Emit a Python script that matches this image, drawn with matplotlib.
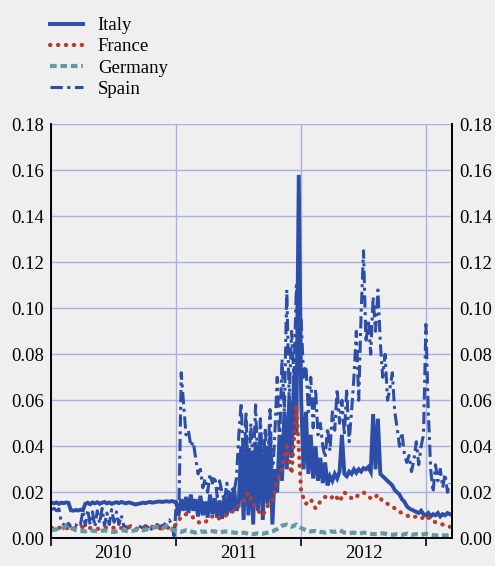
import matplotlib
matplotlib.use("Agg")
import matplotlib.pyplot as plt
import matplotlib.dates as mdates
import pandas as pd

plt.rcParams['font.family'] = ['Liberation Serif', 'DejaVu Serif']

# weekly observations, Jan 2010 - Mar 2013
weeks = pd.date_range('2010-01-04', periods=167, freq='7D')
fortnights = weeks[::2]

italy = [
    0.0155, 0.0152, 0.0156, 0.0150, 0.0155, 0.0153, 0.0156, 0.0154,
    0.0122, 0.0120, 0.0123, 0.0121, 0.0124, 0.0122,
    0.0150, 0.0155, 0.0148, 0.0156, 0.0152, 0.0157, 0.0150, 0.0155, 0.0158, 0.0152,
    0.0156, 0.0150, 0.0154, 0.0157, 0.0153, 0.0158, 0.0155, 0.0152, 0.0156, 0.0154,
    0.0150, 0.0147, 0.0150, 0.0152, 0.0155, 0.0153, 0.0156, 0.0158, 0.0155, 0.0157,
    0.0159, 0.0160, 0.0158, 0.0160, 0.0161, 0.0159, 0.0162, 0.0160,
    # 2011
    0.0150, 0.0110, 0.0170, 0.0120, 0.0180, 0.0110, 0.0190, 0.0120,
    0.0170, 0.0095, 0.0185, 0.0100, 0.0160, 0.0090, 0.0190, 0.0105, 0.0175,
    0.0090, 0.0165, 0.0085, 0.0180, 0.0100, 0.0200, 0.0110, 0.0220, 0.0120,
    0.0150, 0.0400, 0.0080, 0.0450, 0.0100, 0.0380, 0.0060, 0.0420, 0.0120,
    0.0460, 0.0080, 0.0400, 0.0150, 0.0440, 0.0060,
    0.0300, 0.0200, 0.0450, 0.0250, 0.0550, 0.0300, 0.0600, 0.0350, 0.0700, 0.0450, 0.1580,
    # 2012
    0.0600, 0.0300, 0.0550, 0.0280, 0.0450, 0.0260, 0.0400, 0.0250, 0.0350,
    0.0240, 0.0330, 0.0230, 0.0270, 0.0250, 0.0280, 0.0260, 0.0290, 0.0450,
    0.0280, 0.0270, 0.0290, 0.0280, 0.0300, 0.0285, 0.0300, 0.0290, 0.0305,
    0.0300, 0.0310, 0.0290, 0.0540, 0.0300, 0.0520, 0.0280, 0.0270, 0.0260, 0.0250,
    0.0240, 0.0230, 0.0210, 0.0200, 0.0190, 0.0170, 0.0160,
    0.0140, 0.0130, 0.0125, 0.0120, 0.0115, 0.0110, 0.0120, 0.0105,
    # 2013
    0.0100, 0.0110, 0.0095, 0.0105, 0.0100, 0.0110, 0.0095, 0.0105, 0.0100, 0.0110, 0.0105,
]

spain = [
    0.0125, 0.0130, 0.0120, 0.0128, 0.0070,
    0.0060, 0.0055, 0.0065, 0.0050, 0.0060, 0.0055, 0.0070, 0.0060, 0.0120, 0.0055,
    0.0125, 0.0060, 0.0115, 0.0050, 0.0120, 0.0065, 0.0130, 0.0055,
    0.0110, 0.0060, 0.0125, 0.0070, 0.0115, 0.0060, 0.0100, 0.0055,
    0.0050, 0.0045, 0.0055, 0.0050, 0.0035, 0.0055, 0.0050, 0.0045, 0.0055,
    0.0050, 0.0030, 0.0050, 0.0055, 0.0060, 0.0050, 0.0055, 0.0060,
    0.0070, 0.0080, 0.0060, 0.0010,
    # 2011
    0.0160, 0.0100, 0.0720, 0.0580, 0.0450, 0.0470, 0.0400, 0.0420,
    0.0350, 0.0280, 0.0300, 0.0220, 0.0260, 0.0200, 0.0280, 0.0240, 0.0270,
    0.0180, 0.0250, 0.0200, 0.0160, 0.0240, 0.0180, 0.0220, 0.0200, 0.0260,
    0.0450, 0.0590, 0.0300, 0.0550, 0.0250, 0.0500, 0.0300, 0.0580, 0.0280,
    0.0520, 0.0260, 0.0480, 0.0300, 0.0560, 0.0250,
    0.0450, 0.0700, 0.0400, 0.0780, 0.0550, 0.1080, 0.0600, 0.0900, 0.0700, 0.1100, 0.0800,
    # 2012
    0.0950, 0.0700, 0.0750, 0.0550, 0.0700, 0.0480, 0.0650, 0.0450, 0.0500,
    0.0400, 0.0350, 0.0480, 0.0380, 0.0550, 0.0470, 0.0650, 0.0500, 0.0600,
    0.0450, 0.0650, 0.0420, 0.0550, 0.0700, 0.0900, 0.0600, 0.0980, 0.1250,
    0.0850, 0.0950, 0.0800, 0.1050, 0.0900, 0.1080, 0.0850, 0.0700, 0.0800, 0.0600,
    0.0650, 0.0720, 0.0550, 0.0480, 0.0400, 0.0460, 0.0370,
    0.0330, 0.0360, 0.0290, 0.0340, 0.0420, 0.0320, 0.0400, 0.0450,
    # 2013
    0.0930, 0.0550, 0.0300, 0.0200, 0.0320, 0.0250, 0.0300, 0.0220, 0.0280, 0.0200, 0.0240,
]

france = [
    0.0045, 0.0040, 0.0050, 0.0045, 0.0040, 0.0045, 0.0050, 0.0048, 0.0045, 0.0040,
    0.0042, 0.0045, 0.0050, 0.0045, 0.0042, 0.0048, 0.0050, 0.0045, 0.0040, 0.0045,
    0.0048, 0.0050, 0.0045, 0.0042, 0.0045, 0.0050,
    0.0060, 0.0095, 0.0105, 0.0100, 0.0080, 0.0065, 0.0070, 0.0090, 0.0100, 0.0085,
    0.0095, 0.0110, 0.0120, 0.0140, 0.0160, 0.0200, 0.0150, 0.0120, 0.0100, 0.0140,
    0.0160, 0.0250, 0.0300, 0.0400, 0.0280, 0.0580,
    0.0200, 0.0150, 0.0170, 0.0130, 0.0160, 0.0180, 0.0170, 0.0190, 0.0160, 0.0200,
    0.0180, 0.0170, 0.0190, 0.0200, 0.0180, 0.0170, 0.0190, 0.0160, 0.0150, 0.0140,
    0.0120, 0.0110, 0.0100, 0.0090, 0.0095, 0.0085,
    0.0100, 0.0080, 0.0070, 0.0065, 0.0055, 0.0050,
]

germany = [
    0.0035, 0.0040, 0.0038, 0.0055, 0.0045, 0.0035, 0.0033, 0.0030, 0.0035, 0.0032,
    0.0030, 0.0035, 0.0030, 0.0028, 0.0032, 0.0035, 0.0030, 0.0033, 0.0038, 0.0035,
    0.0040, 0.0045, 0.0050, 0.0042, 0.0055, 0.0040,
    0.0030, 0.0028, 0.0035, 0.0030, 0.0025, 0.0030, 0.0028, 0.0032, 0.0030, 0.0025,
    0.0030, 0.0028, 0.0025, 0.0022, 0.0025, 0.0020, 0.0018, 0.0022, 0.0020, 0.0025,
    0.0030, 0.0040, 0.0055, 0.0060, 0.0050, 0.0060,
    0.0045, 0.0035, 0.0030, 0.0032, 0.0028, 0.0025, 0.0030, 0.0028, 0.0035, 0.0025,
    0.0022, 0.0025, 0.0020, 0.0025, 0.0022, 0.0018, 0.0020, 0.0022, 0.0018, 0.0015,
    0.0018, 0.0015, 0.0020, 0.0015, 0.0018, 0.0015,
    0.0020, 0.0015, 0.0012, 0.0015, 0.0012, 0.0014,
]

yticks = [0.00, 0.02, 0.04, 0.06, 0.08, 0.10, 0.12, 0.14, 0.16, 0.18]

bg = '#efefef'
blue = '#2c4ea8'
red = '#b73c2c'
teal = '#6598a2'
gridc = '#aab0e6'
fs = 13.5

fig = plt.figure(figsize=(4.95, 5.66), dpi=100, facecolor=bg)
ax = fig.add_axes([0.1024, 0.0489, 0.8113, 0.7315], facecolor=bg)

l_it, = ax.plot(weeks, italy, color=blue, lw=2.8, solid_joinstyle='miter', label='Italy')
l_es, = ax.plot(weeks, spain, color=blue, lw=2.2, ls=(0, (4, 1.5, 1, 1.5)), label='Spain')
l_fr, = ax.plot(fortnights, france, color=red, lw=3.0, ls=(0, (0.1, 1.8)),
                dash_capstyle='round', label='France')
l_de, = ax.plot(fortnights, germany, color=teal, lw=3.0, ls=(0, (1.6, 0.9)), label='Germany')

ax.set_ylim(0, 0.18)
ax.set_xlim(pd.Timestamp('2010-01-01'), pd.Timestamp('2013-03-18'))
ax.set_yticks(yticks)
ax.set_yticklabels(['%.2f' % v for v in yticks])
ax.tick_params(axis='y', length=0, labelsize=fs, pad=5)

ax.xaxis.set_major_locator(mdates.YearLocator())
ax.xaxis.set_major_formatter(plt.NullFormatter())
ax.xaxis.set_minor_locator(mdates.MonthLocator(bymonth=7, bymonthday=2))
ax.xaxis.set_minor_formatter(mdates.DateFormatter('%Y'))
ax.tick_params(axis='x', which='major', length=6, width=1.2, color='black', direction='out')
ax.tick_params(axis='x', which='minor', length=0, labelsize=fs, pad=5)

ax.grid(True, which='major', color=gridc, lw=1)
ax.set_axisbelow(True)

for s in ['left', 'right', 'bottom']:
    ax.spines[s].set_color('black')
    ax.spines[s].set_linewidth(1.4)
ax.spines['top'].set_visible(False)

ax2 = ax.twinx()
ax2.set_ylim(0, 0.18)
ax2.set_yticks(yticks)
ax2.set_yticklabels(['%.2f' % v for v in yticks])
ax2.tick_params(axis='y', length=0, labelsize=fs, pad=5)
for s in ax2.spines.values():
    s.set_visible(False)

fig.legend([l_it, l_fr, l_de, l_es], ['Italy', 'France', 'Germany', 'Spain'],
           loc='upper left', bbox_to_anchor=(0.101, 0.970), frameon=False,
           borderaxespad=0, borderpad=0, fontsize=fs,
           handlelength=1.75, handletextpad=0.8, labelspacing=0.22)

fig.savefig('out.png', dpi=100, facecolor=bg)
